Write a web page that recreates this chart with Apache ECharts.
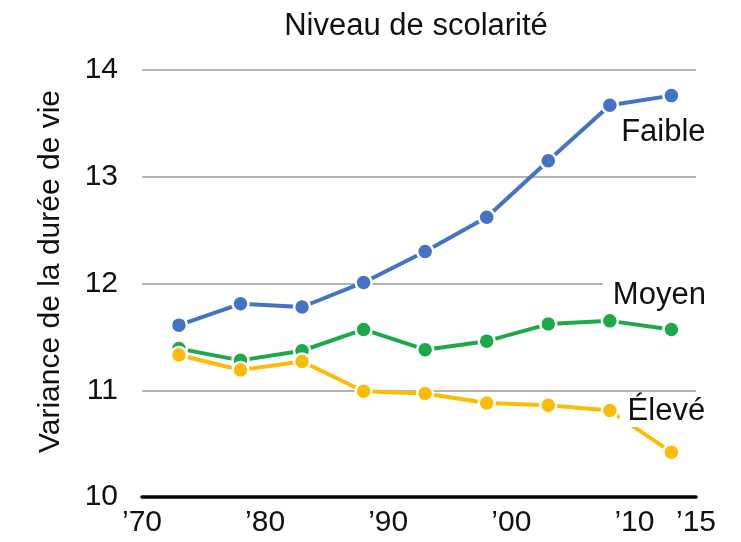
<!DOCTYPE html>
<html>
<head>
<meta charset="utf-8">
<script src="https://cdn.jsdelivr.net/npm/echarts@6/dist/echarts.min.js"></script>
<style>
  html, body { margin: 0; padding: 0; background: #fff; }
  #chart { width: 741px; height: 542px; }
</style>
</head>
<body>
<div id="chart"></div>
<script>
// Survey years
const years = [1973, 1978, 1983, 1988, 1993, 1998, 2003, 2008, 2013];
// Life-span variance by education level
const faible = [11.61, 11.81, 11.78, 12.01, 12.30, 12.62, 13.15, 13.67, 13.76];
const moyen  = [11.39, 11.28, 11.37, 11.57, 11.38, 11.46, 11.62, 11.65, 11.57];
const eleve  = [11.33, 11.19, 11.27, 10.99, 10.97, 10.88, 10.86, 10.81, 10.42];
// X tick labels
const xTickLabels = { 1970: '’70', 1980: '’80', 1990: '’90', 2000: '’00', 2010: '’10', 2015: '’15' };

const FONT = 'Liberation Sans, Arial, sans-serif';

function buildSeries(name, values, color, label) {
  const data = values.map((v, i) => {
    const item = { value: [years[i], v] };
    if (i === values.length - 1) {
      item.label = Object.assign({
        show: true,
        formatter: name,
        color: '#111',
        fontSize: 31,
        fontFamily: FONT
      }, label);
    }
    return item;
  });
  return {
    name: name,
    type: 'line',
    data: data,
    symbol: 'circle',
    symbolSize: 16,
    lineStyle: { color: color, width: 4 },
    itemStyle: { color: color, borderColor: '#fff', borderWidth: 2.5 },
    z: 3
  };
}

const chart = echarts.init(document.getElementById('chart'));
chart.setOption({
  animation: false,
  backgroundColor: '#fff',
  title: {
    text: 'Niveau de scolarité',
    left: 411,
    textAlign: 'center',
    top: 6,
    textStyle: { fontSize: 31, fontWeight: 'normal', color: '#111', fontFamily: FONT }
  },
  grid: { left: 142, right: 45, top: 70, bottom: 45, containLabel: false },
  xAxis: {
    type: 'value',
    min: 1970,
    max: 2015,
    interval: 5,
    splitLine: { show: false },
    axisTick: { show: false },
    axisLine: { show: true, lineStyle: { color: '#000', width: 3.5 } },
    axisLabel: {
      margin: 11,
      fontSize: 30,
      color: '#111',
      fontFamily: FONT,
      showMaxLabel: true,
      showMinLabel: true,
      formatter: v => xTickLabels[v] || ''
    }
  },
  yAxis: {
    type: 'value',
    min: 10,
    max: 14,
    interval: 1,
    name: 'Variance de la durée de vie',
    nameLocation: 'middle',
    nameGap: 76,
    nameTextStyle: { fontSize: 30, color: '#111', fontFamily: FONT, padding: [0, 0, 0, 24] },
    axisLine: { show: false },
    axisTick: { show: false },
    axisLabel: { margin: 24, fontSize: 30, color: '#111', fontFamily: FONT },
    splitLine: { lineStyle: { color: '#9a9a9a', width: 1.5 } }
  },
  series: [
    buildSeries('Faible', faible, '#4472C4', { position: 'bottom', offset: [-8, 7] }),
    buildSeries('Moyen', moyen, '#1DA84C', {
      position: 'top', offset: [-15, -4],
      backgroundColor: '#fff', padding: [0, 4, 0, 10]
    }),
    buildSeries('Élevé', eleve, '#FBBC05', {
      position: 'top', offset: [-7, -11],
      backgroundColor: '#fff', padding: [2, 4, 0, 8]
    })
  ]
});
</script>
</body>
</html>
